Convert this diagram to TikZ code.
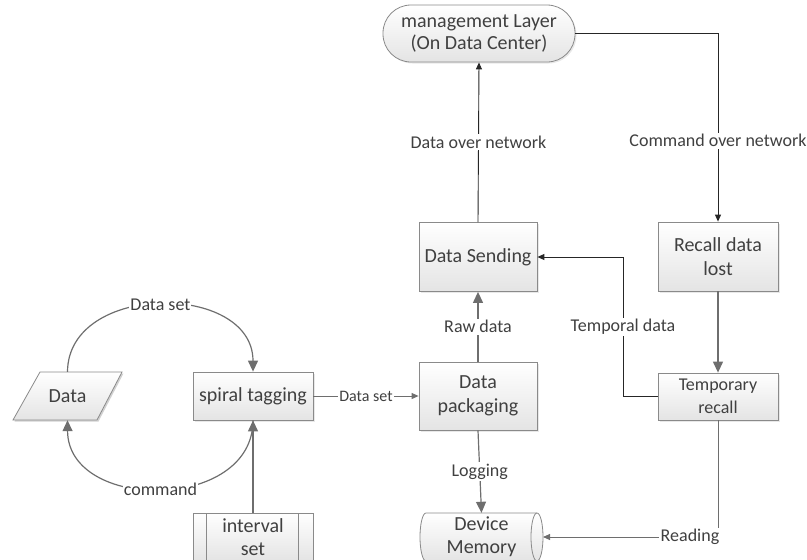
\documentclass[tikz,border=0pt]{standalone}
\usepackage{fontspec}
\setmainfont{Carlito}
\usetikzlibrary{arrows.meta,shadows}
\definecolor{txt}{HTML}{404040}
\definecolor{bdr}{HTML}{8A8A8A}
\definecolor{lgray}{HTML}{6E6E6E}
\definecolor{ldark}{HTML}{262626}
\definecolor{shade}{HTML}{E4E4E4}
\tikzset{
  boxfill/.style={top color=white, bottom color=shade, draw=bdr, line width=0.8pt},
  procbox/.style={boxfill, minimum width=118pt, minimum height=69pt, inner sep=0pt,
    align=center, text=txt, font=\fontsize{20}{24}\selectfont,
    drop shadow={shadow xshift=1.5pt, shadow yshift=-1.5pt, fill=black!18}},
  plainnode/.style={inner sep=0pt, align=center, text=txt, font=\fontsize{20}{23}\selectfont},
  lbl/.style={fill=white, inner sep=1.5pt, text=txt, font=\fontsize{18}{20}\selectfont},
  glink/.style={draw=lgray, line width=1.2pt, -{Triangle[width=10pt,length=11pt]}},
  blink/.style={draw=ldark, line width=0.9pt, -{Triangle[width=6pt,length=7pt]}},
}
\begin{document}
\begin{tikzpicture}[x=1pt,y=-1pt]
\useasboundingbox (0,0) rectangle (807,560);
\clip (0,0) rectangle (807,560);

% management layer (terminator)
\node[boxfill, rounded corners=28pt, minimum width=192pt, minimum height=57pt,
  inner sep=0pt, align=center, text=txt, font=\fontsize{20}{22}\selectfont,
  drop shadow={shadow xshift=1.5pt, shadow yshift=-1.5pt, fill=black!18}]
  (mgmt) at (479,33.5) {management Layer\\(On Data Center)};

% process boxes
\node[procbox] (send) at (478,257) {Data Sending};
\node[procbox, minimum width=120pt] (recall) at (718,256.5) {Recall data\\lost};
\node[procbox, minimum width=120pt, minimum height=47pt,
  font=\fontsize{18}{23}\selectfont] (temp) at (718,396.5) {Temporary\\recall};
\node[procbox, minimum height=68pt] (pack) at (478,396) {Data\\packaging};
\node[procbox, minimum width=120pt, minimum height=48pt] (spiral) at (253,396) {spiral tagging};

% data input (parallelogram)
\fill[black!18] (41.5,373.5) -- (123.5,373.5) -- (98.5,421.5) -- (14.5,421.5) -- cycle;
\draw[boxfill] (40,372) -- (122,372) -- (97,420) -- (13,420) -- cycle;
\node[plainnode, minimum width=109pt, minimum height=48pt] (data) at (67.5,396) {Data};

% interval set (predefined process)
\draw[boxfill] (193,513) rectangle (313,561);
\draw[bdr, line width=0.8pt] (206,513) -- (206,561) (298,513) -- (298,561);
\node[plainnode, minimum width=120pt, minimum height=48pt] (interval) at (253,537) {interval\\set};

% device memory (horizontal cylinder)
\draw[boxfill] (426,513) -- (537,513) arc(-90:90:6 and 24) -- (426,561) arc(90:270:6 and 24) -- cycle;
\draw[bdr, line width=0.8pt] (537,513) arc(270:90:6 and 24);
\node[plainnode, minimum width=123pt, minimum height=48pt] (mem) at (481.5,537) {Device\\Memory};
\coordinate (memE) at (543,537);

% connectors
\draw[blink] (send.north) -- node[lbl, pos=0.5] {Data over network} (mgmt.south);
\draw[blink] (mgmt.east) -| node[lbl, pos=0.785] {Command over network} (recall.north);
\draw[glink] (recall.south) -- (temp.north);
\draw[blink] (temp.west) -- (623,396.5) -- node[lbl] {Temporal data} (623,257) -- (send.east);
\draw[blink, draw=lgray] (temp.south) -- (718,537) -- (memE);
\node[lbl] at (690,537) {Reading};
\draw[glink] (pack.north) -- node[lbl] {Raw data} (send.south);
\draw[glink] (pack.south) -- node[lbl] {Logging} (mem.north);
\draw[blink, draw=lgray] (spiral.east) -- node[lbl, font=\fontsize{16}{18}\selectfont, inner sep=1pt] {Data set} (pack.west);
\draw[glink] (data.north) .. controls (68,282) and (253,282) .. node[lbl, pos=0.5, inner sep=1pt] {Data set} (spiral.north);
\draw[glink] (spiral.south) .. controls (253,512) and (68,512) .. node[lbl, pos=0.5, inner sep=1pt] {command} (data.south);
\draw[glink] (interval.north) -- (spiral.south);
\end{tikzpicture}
\end{document}
